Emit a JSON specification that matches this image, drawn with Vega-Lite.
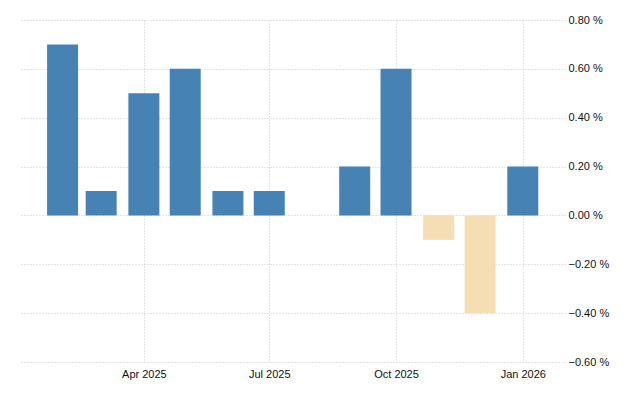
{
  "$schema": "https://vega.github.io/schema/vega-lite/v6.json",
  "autosize": "none",
  "width": 546,
  "height": 342,
  "padding": {"left": 19, "top": 20, "right": 75, "bottom": 38},
  "background": "white",
  "config": {"view": {"stroke": null}},
  "data": {
    "values": [
      {"month": "2025/02/01", "value": 0.7},
      {"month": "2025/03/01", "value": 0.1},
      {"month": "2025/04/01", "value": 0.5},
      {"month": "2025/05/01", "value": 0.6},
      {"month": "2025/06/01", "value": 0.1},
      {"month": "2025/07/01", "value": 0.1},
      {"month": "2025/08/01", "value": 0.0},
      {"month": "2025/09/01", "value": 0.2},
      {"month": "2025/10/01", "value": 0.6},
      {"month": "2025/11/01", "value": -0.1},
      {"month": "2025/12/01", "value": -0.4},
      {"month": "2026/01/01", "value": 0.2}
    ]
  },
  "mark": {"type": "bar", "size": 31},
  "encoding": {
    "x": {
      "field": "month",
      "type": "temporal",
      "scale": {"domain": [{"year": 2025, "month": 1, "date": 4}, {"year": 2026, "month": 1, "date": 28}]},
      "axis": {
        "title": null,
        "values": [
          {"year": 2025, "month": 4, "date": 1},
          {"year": 2025, "month": 7, "date": 1},
          {"year": 2025, "month": 10, "date": 1},
          {"year": 2026, "month": 1, "date": 1}
        ],
        "format": "%b %Y",
        "domain": false,
        "ticks": false,
        "grid": true,
        "gridColor": "#c8c8c8",
        "gridDash": [1, 2],
        "labelPadding": 6,
        "labelFont": "Liberation Sans",
        "labelFontSize": 11,
        "labelColor": "#111111"
      }
    },
    "y": {
      "field": "value",
      "type": "quantitative",
      "scale": {"domain": [-0.6, 0.8], "nice": false, "zero": false},
      "axis": {
        "title": null,
        "orient": "right",
        "values": [-0.6, -0.4, -0.2, 0, 0.2, 0.4, 0.6, 0.8],
        "labelExpr": "format(datum.value, '.2f') + ' %'",
        "domain": false,
        "ticks": false,
        "grid": true,
        "gridColor": "#c8c8c8",
        "gridDash": [1, 2],
        "labelPadding": 3,
        "labelFont": "Liberation Sans",
        "labelFontSize": 11,
        "labelColor": "#111111"
      }
    },
    "color": {
      "condition": {"test": "datum.value < 0", "value": "#F5DEB3"},
      "value": "#4682B4"
    }
  }
}
